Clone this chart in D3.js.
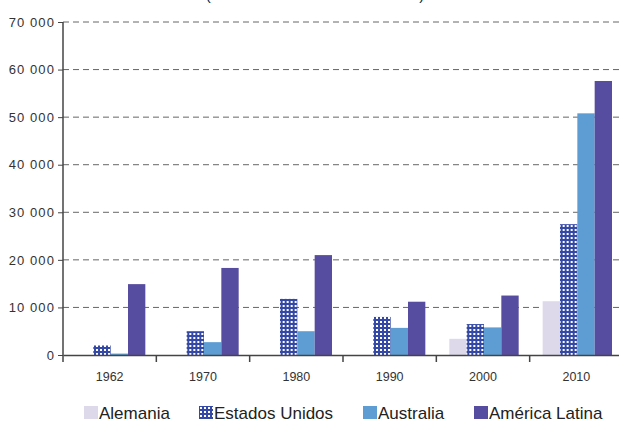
<!DOCTYPE html>
<html>
<head>
<meta charset="utf-8">
<script src="https://cdn.jsdelivr.net/npm/d3@7"></script>
<style>
	body { margin: 0; background: #fff; }
	text { font-family: 'Liberation Sans', Arial, sans-serif; fill: #222; }
</style>
</head>
<body>
<div id="chart"></div>
<script>
var years = ['1962', '1970', '1980', '1990', '2000', '2010'];
var seriesNames = ['Alemania', 'Estados Unidos', 'Australia', 'América Latina'];
var alemania = [0, 0, 0, 0, 3400, 11300];
var estadosUnidos = [2000, 5000, 11800, 8000, 6500, 27500];
var australia = [300, 2700, 5000, 5700, 5800, 50800];
var americaLatina = [14900, 18300, 21000, 11200, 12500, 57600];
var yTicks = [0, 10000, 20000, 30000, 40000, 50000, 60000, 70000];

var seriesValues = [alemania, estadosUnidos, australia, americaLatina];
var fills = ['#ddd8ea', 'url(#dots)', '#5e9dd3', '#574da0'];

var svg = d3.select('#chart').append('svg').attr('width', 619).attr('height', 423);

// dotted fill used for Estados Unidos
var pat = svg.append('defs').append('pattern')
	.attr('id', 'dots')
	.attr('patternUnits', 'userSpaceOnUse')
	.attr('width', 4).attr('height', 4);
pat.append('rect').attr('width', 4).attr('height', 4).attr('fill', '#3448a6');
pat.append('rect').attr('x', 1).attr('y', 1).attr('width', 2).attr('height', 2).attr('fill', '#ffffff');

// title, almost entirely cut off at the top (as in the original)
svg.append('text')
	.attr('x', 315).attr('y', 0)
	.attr('text-anchor', 'middle')
	.style('font-size', '15px')
	.text('(en millones de dólares de 2010)');

var x0 = d3.scaleBand().domain(years).range([63, 623]).paddingInner(0).paddingOuter(0);
var x1 = d3.scaleBand().domain(seriesNames).range([13, x0.bandwidth() - 11]).padding(0);
var y = d3.scaleLinear().domain([0, 70000]).range([355, 22]);

var fmt = function(d) { return d3.format(',')(d).replace(',', ' '); };

// gridlines
svg.append('g').selectAll('line')
	.data(yTicks.slice(1))
	.join('line')
	.attr('x1', 63).attr('x2', 619)
	.attr('y1', function(d) { return y(d); })
	.attr('y2', function(d) { return y(d); })
	.attr('stroke', '#666')
	.attr('stroke-width', 1)
	.attr('stroke-dasharray', '6,4');

// bars
var groups = svg.append('g').selectAll('g')
	.data(years)
	.join('g')
	.attr('transform', function(d) { return 'translate(' + x0(d) + ',0)'; });

groups.selectAll('rect')
	.data(function(d, i) {
		return seriesNames.map(function(s, j) { return { name: s, value: seriesValues[j][i], k: j }; });
	})
	.join('rect')
	.attr('x', function(d) { return x1(d.name); })
	.attr('width', x1.bandwidth())
	.attr('y', function(d) { return y(d.value); })
	.attr('height', function(d) { return y(0) - y(d.value); })
	.attr('fill', function(d) { return fills[d.k]; });

// y axis
var yAxis = d3.axisLeft(y).tickValues(yTicks).tickSize(5).tickFormat(fmt);
var yAxisG = svg.append('g').attr('transform', 'translate(63,0)').call(yAxis);
yAxisG.select('.domain').attr('stroke', '#444').attr('stroke-width', 1.5).attr('d', 'M0,22V355');
yAxisG.selectAll('.tick line').attr('stroke', '#444');
yAxisG.selectAll('.tick text')
	.style('font-size', '13px')
	.style('letter-spacing', '1.1px')
	.attr('x', -8)
	.style('fill', '#333');

// x axis
var xAxis = d3.axisBottom(x0).tickSize(0).tickPadding(17);
var xAxisG = svg.append('g').attr('transform', 'translate(0,355)').call(xAxis);
xAxisG.select('.domain').attr('stroke', '#444').attr('stroke-width', 1.5);
xAxisG.selectAll('.tick text').style('font-size', '12.5px').style('fill', '#333');

// category separators
svg.append('g').selectAll('line')
	.data(years)
	.join('line')
	.attr('x1', function(d) { return x0(d); })
	.attr('x2', function(d) { return x0(d); })
	.attr('y1', 355).attr('y2', 362)
	.attr('stroke', '#444')
	.attr('stroke-width', 1.5);

// legend
var legendX = [84, 199, 363, 474];
var legend = svg.append('g').selectAll('g')
	.data(seriesNames)
	.join('g')
	.attr('transform', function(d, i) { return 'translate(' + legendX[i] + ',406)'; });
legend.append('rect')
	.attr('width', 14).attr('height', 13)
	.attr('fill', function(d, i) { return fills[i]; });
legend.append('text')
	.attr('x', 15).attr('y', 13)
	.style('font-size', '17px')
	.text(function(d) { return d; });
</script>
</body>
</html>
